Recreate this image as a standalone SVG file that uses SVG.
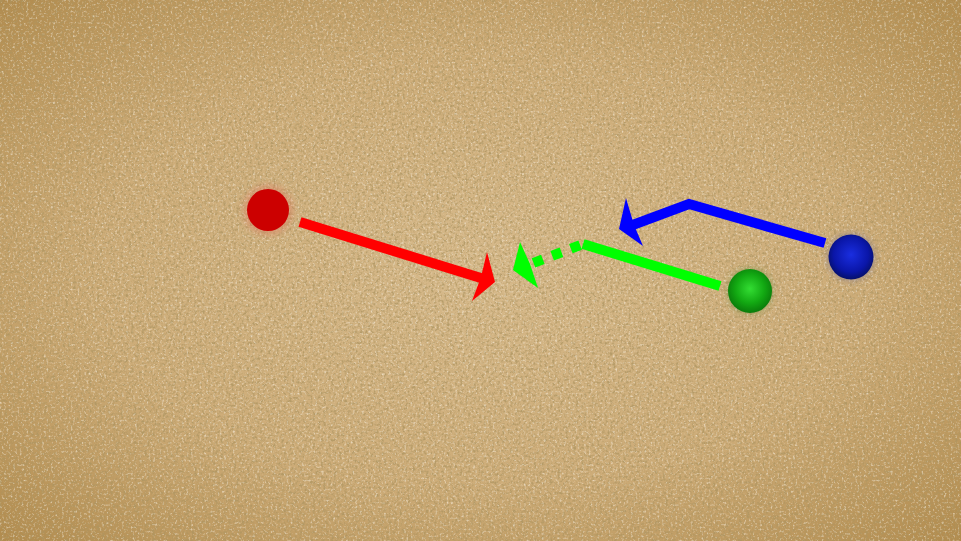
<svg xmlns="http://www.w3.org/2000/svg" width="961" height="541" viewBox="0 0 961 541">
<defs>
<radialGradient id="bg" cx="0.5" cy="0.5" r="0.72">
<stop offset="0" stop-color="#d6b98a"/>
<stop offset="0.55" stop-color="#cdac78"/>
<stop offset="1" stop-color="#b08a4c"/>
</radialGradient>
<filter id="sand" x="0" y="0" width="100%" height="100%">
<feTurbulence type="fractalNoise" baseFrequency="0.38" numOctaves="3" seed="4" result="n"/>
<feColorMatrix in="n" type="matrix" values="0 0 0 0 0.42  0 0 0 0 0.30  0 0 0 0 0.12  0 0 0 -3.2 1.75"/>
</filter>
<filter id="sand2" x="0" y="0" width="100%" height="100%">
<feTurbulence type="fractalNoise" baseFrequency="0.45" numOctaves="2" seed="9" result="n"/>
<feColorMatrix in="n" type="matrix" values="0 0 0 0 1  0 0 0 0 0.96  0 0 0 0 0.88  0 0 0 2.8 -1.5"/>
</filter>
<filter id="halo" x="-50%" y="-50%" width="200%" height="200%">
<feGaussianBlur stdDeviation="3"/>
</filter>
<radialGradient id="gball" cx="0.5" cy="0.45" r="0.55">
<stop offset="0" stop-color="#33dd33"/>
<stop offset="0.6" stop-color="#12a812"/>
<stop offset="1" stop-color="#0a7a0a"/>
</radialGradient>
<radialGradient id="bball" cx="0.5" cy="0.45" r="0.55">
<stop offset="0" stop-color="#1a2ee0"/>
<stop offset="0.7" stop-color="#0a16a8"/>
<stop offset="1" stop-color="#06106a"/>
</radialGradient>
<style>
.ln{fill:none;stroke-linejoin:miter;stroke-width:10}
</style>
</defs>
<rect width="961" height="541" fill="url(#bg)"/>
<rect width="961" height="541" filter="url(#sand)" opacity="0.75"/>
<rect width="961" height="541" filter="url(#sand2)" opacity="0.55"/>
<g id="red-ball">
<circle cx="268" cy="210" r="25" fill="#e07a60" opacity="0.45" filter="url(#halo)"/>
<circle cx="268" cy="210" r="21" fill="#cc0000"/>
</g>
<g id="green-ball">
<circle cx="750" cy="291" r="23" fill="#4a8a2a" opacity="0.35" filter="url(#halo)"/>
<circle cx="750" cy="291" r="22" fill="url(#gball)"/>
</g>
<g id="blue-ball">
<circle cx="851" cy="257" r="24" fill="#6a6a9a" opacity="0.4" filter="url(#halo)"/>
<circle cx="851" cy="257" r="22.5" fill="url(#bball)"/>
</g>
<g id="connectors">
<g id="red-arrow">
<line x1="300" y1="222" x2="484" y2="279" class="ln" stroke="#ff0000"/>
<polygon points="495,282 487,252 481,277 472,301" fill="#ff0000"/>
</g>
<g id="green-arrow">
<polyline points="720,286 583,244" class="ln" stroke="#00ff00" stroke-width="9"/>
<path d="M583,244 L528,265" class="ln" stroke="#00ff00" stroke-width="9" stroke-dasharray="10 10" stroke-dashoffset="-3"/>
<polygon points="513,270 520,242 530,264 538,288" fill="#00ff00"/>
</g>
<g id="blue-arrow">
<polyline points="825,243 689,204 630,226" class="ln" stroke="#0000ff"/>
<polygon points="619,229 626,198 634,225 643,246" fill="#0000ff"/>
</g>
</g>
</svg>
